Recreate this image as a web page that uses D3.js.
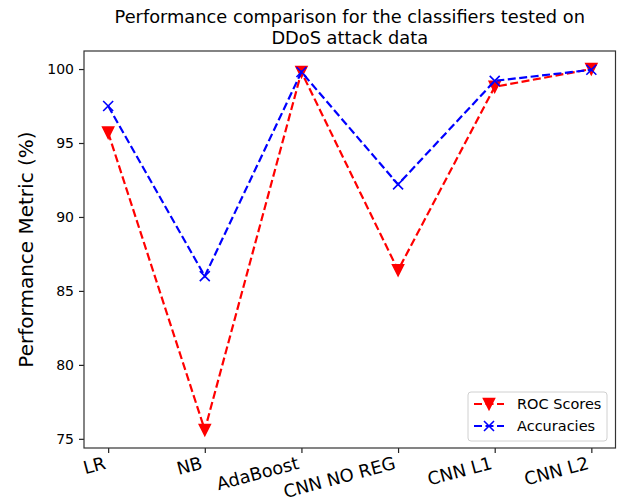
<!DOCTYPE html>
<html>
<head>
<meta charset="utf-8">
<script src="https://cdn.jsdelivr.net/npm/d3@7"></script>
<style>
  body { margin: 0; background: #fff; }
  text { font-family: "DejaVu Sans", sans-serif; fill: #000; }
</style>
</head>
<body>
<svg id="chart" width="621" height="500"></svg>
<script>
// classifiers and their scores (%)
var classifiers = ["LR", "NB", "AdaBoost", "CNN NO REG", "CNN L1", "CNN L2"];
var rocScores = [95.7, 75.6, 99.8, 86.4, 98.8, 100.0];
var accuracies = [97.5, 86.0, 99.8, 92.2, 99.2, 99.95];
var yTicks = [75, 80, 85, 90, 95, 100];
var titleLines = ["Performance comparison for the classifiers tested on", "DDoS attack data"];

var svg = d3.select("#chart");
var plotLeft = 84, plotRight = 615.5, plotTop = 51, plotBottom = 448;

// matplotlib style 5% margins
var all = rocScores.concat(accuracies);
var ymin = d3.min(all), ymax = d3.max(all);
var ypad = (ymax - ymin) * 0.05;
var n = classifiers.length;

var x = d3.scaleLinear()
    .domain([-0.25, n - 1 + 0.25])
    .range([plotLeft, plotRight]);
var y = d3.scaleLinear()
    .domain([ymin - ypad, ymax + ypad])
    .range([plotBottom, plotTop]);

// title
svg.append("g").selectAll("text")
    .data(titleLines)
    .enter().append("text")
    .attr("x", (plotLeft + plotRight) / 2)
    .attr("y", (d, i) => 22.5 + i * 21)
    .attr("text-anchor", "middle")
    .style("font-size", "17.8px")
    .text(d => d);

// y axis
var yAxis = svg.append("g")
    .attr("transform", "translate(" + plotLeft + ",0)")
    .call(d3.axisLeft(y).tickValues(yTicks).tickSize(5).tickPadding(5).tickFormat(d3.format("d")));
yAxis.select(".domain").remove();
yAxis.selectAll(".tick line").attr("stroke", "#222").attr("stroke-width", 1.2);
yAxis.selectAll(".tick text")
    .style("font-size", "14px")
    .style("font-family", "DejaVu Sans");

// x axis
var xAxis = svg.append("g")
    .attr("transform", "translate(0," + plotBottom + ")")
    .call(d3.axisBottom(x).tickValues(d3.range(n)).tickSize(5).tickFormat(""));
xAxis.select(".domain").remove();
xAxis.selectAll(".tick line").attr("stroke", "#222").attr("stroke-width", 1.2);

svg.append("g").selectAll("text")
    .data(classifiers)
    .enter().append("text")
    .attr("transform", (d, i) => "translate(" + (x(i) - 1.5) + ",468.5) rotate(-15)")
    .attr("text-anchor", "end")
    .style("font-size", "17.8px")
    .text(d => d);

// y label
svg.append("text")
    .attr("transform", "translate(33," + ((plotTop + plotBottom) / 2) + ") rotate(-90)")
    .attr("text-anchor", "middle")
    .style("font-size", "20px")
    .text("Performance Metric (%)");

// frame
svg.append("rect")
    .attr("x", plotLeft)
    .attr("y", plotTop)
    .attr("width", plotRight - plotLeft)
    .attr("height", plotBottom - plotTop)
    .attr("fill", "none")
    .attr("stroke", "#333")
    .attr("stroke-width", 1.2);

var line = d3.line()
    .x((d, i) => x(i))
    .y(d => y(d));

var tri = "M0,5.5L-5.5,-5.5L5.5,-5.5Z";
var cross = "M-5,-5L5,5M-5,5L5,-5";

var series = [
    {name: "ROC Scores", values: rocScores, color: "#ff0000", marker: tri},
    {name: "Accuracies", values: accuracies, color: "#0000ff", marker: cross}
];

series.forEach(function (s) {
    svg.append("path")
        .datum(s.values)
        .attr("d", line)
        .attr("fill", "none")
        .attr("stroke", s.color)
        .attr("stroke-width", 2.2)
        .attr("stroke-dasharray", "8,3.5");

    svg.append("g").selectAll("path")
        .data(s.values)
        .enter().append("path")
        .attr("transform", (d, i) => "translate(" + x(i) + "," + y(d) + ")")
        .attr("d", s.marker)
        .attr("fill", s.color)
        .attr("stroke", s.color)
        .attr("stroke-width", 1.6);
});

// legend
var legend = svg.append("g").attr("transform", "translate(468,392)");
legend.append("rect")
    .attr("width", 139)
    .attr("height", 49)
    .attr("rx", 3)
    .attr("fill", "#fff")
    .attr("fill-opacity", 0.8)
    .attr("stroke", "#d0d0d0");

var item = legend.selectAll(".item")
    .data(series)
    .enter().append("g")
    .attr("class", "item")
    .attr("transform", (d, i) => "translate(0," + (12 + i * 22) + ")");

item.append("line")
    .attr("x1", 6).attr("x2", 36)
    .attr("stroke", d => d.color)
    .attr("stroke-width", 2.2)
    .attr("stroke-dasharray", "8,3.5");
item.append("path")
    .attr("transform", "translate(21,0)")
    .attr("d", d => d.marker)
    .attr("fill", d => d.color)
    .attr("stroke", d => d.color)
    .attr("stroke-width", 1.6);
item.append("text")
    .attr("x", 49)
    .attr("dy", "0.35em")
    .style("font-size", "14.5px")
    .text(d => d.name);
</script>
</body>
</html>
